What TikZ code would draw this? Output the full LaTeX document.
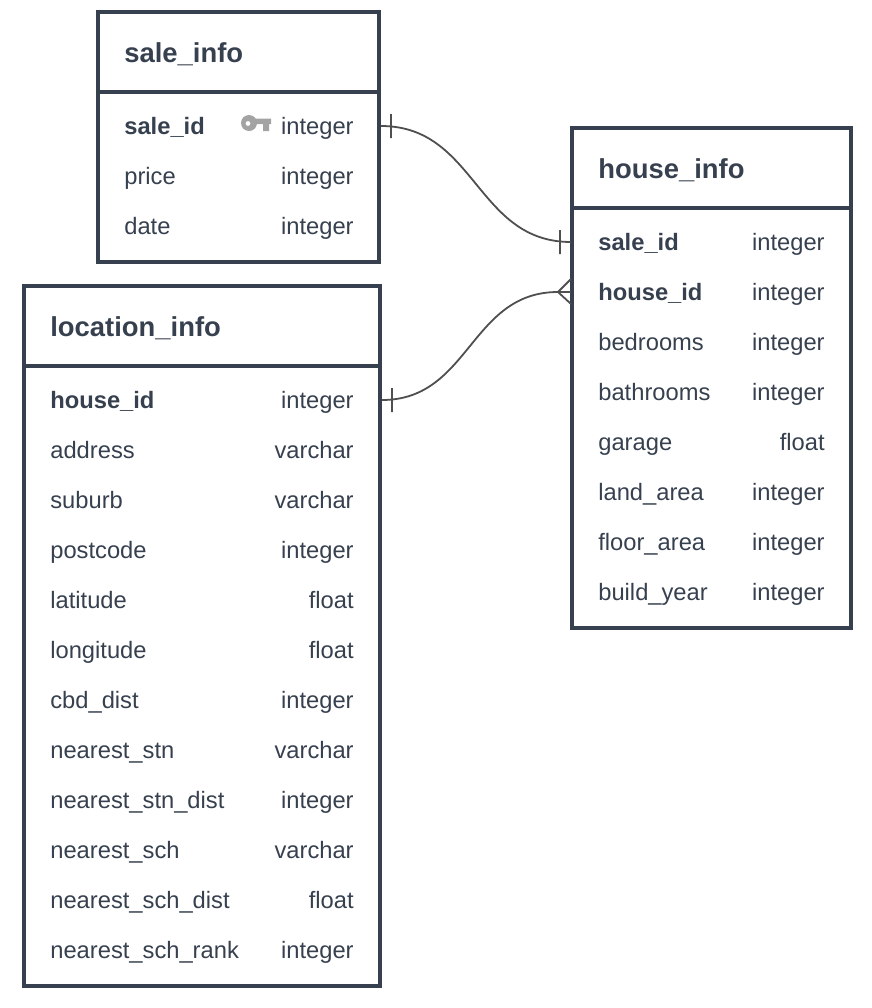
\documentclass[tikz,border=0pt]{standalone}
\usepackage{fontspec}
\setmainfont{Liberation Sans}
\usetikzlibrary{calc}
\definecolor{tblInk}{HTML}{36404E}
\definecolor{linkInk}{HTML}{4F4F4F}
\definecolor{keyInk}{HTML}{A3A3A3}
\tikzstyle{tblBox}=[rectangle, draw=tblInk, line width=0.08cm, inner sep=0pt, outer sep=0pt]
\tikzstyle{title}=[anchor=base west, inner sep=0pt, text=tblInk, font=\fontsize{15.6}{18}\selectfont\bfseries]
\tikzstyle{colName}=[anchor=base west, inner sep=0pt, text=tblInk, font=\fontsize{13.5}{16}\selectfont]
\tikzstyle{colKey}=[colName, font=\fontsize{13.5}{16}\selectfont\bfseries]
\tikzstyle{colType}=[anchor=base east, inner sep=0pt, text=tblInk, font=\fontsize{13.5}{16}\selectfont]
\tikzstyle{link}=[draw=linkInk, line width=0.036cm]
\tikzstyle{tick}=[rectangle, draw=linkInk, line width=0.034cm, minimum width=0pt, minimum height=0.48cm, inner sep=0pt, outer sep=0pt]

\begin{document}
\begin{tikzpicture}[x=0.02cm, y=-0.02cm]
        \useasboundingbox (0,0) rectangle (872,1008);
        % sale_info
        \node(saleBox) [tblBox, minimum width=5.63cm, minimum height=5cm] at (238.75,137){};
        \node(saleHead) [tblBox, minimum width=5.63cm, minimum height=1.6cm] at (238.75,52){};
        \node(saleTitle) [title] at (124,62){sale\_info};
        \node(saleKey) [colKey] at (124,134.5){sale\_id};
        \node(saleKeyType) [colType] at (354,134.5){integer};
        \foreach \i/\name/\kind in {1/price/integer, 2/date/integer}{
            \node(sale\i) [colName] at (124,134.5+50*\i){\name};
            \node(saleType\i) [colType] at (354,134.5+50*\i){\kind};
        }
        % key icon
        \fill[keyInk, even odd rule] (249,123) circle (8) (248,123.5) circle (2.5);
        \fill[keyInk] (254,118.7) -- (271,118.7) -- (271,124) -- (269,124) -- (269,131)
            -- (263,131) -- (263,124) -- (254,124) -- cycle;

        % house_info
        \node(houseBox) [tblBox, minimum width=5.58cm, minimum height=10cm] at (711.5,378){};
        \node(houseHead) [tblBox, minimum width=5.58cm, minimum height=1.6cm] at (711.5,168){};
        \node(houseTitle) [title] at (598,178){house\_info};
        \node(houseKey1) [colKey] at (598,250.5){sale\_id};
        \node(houseKey2) [colKey] at (598,300.5){house\_id};
        \node(houseKeyType1) [colType] at (825,250.5){integer};
        \node(houseKeyType2) [colType] at (825,300.5){integer};
        \foreach \i/\name/\kind in {2/bedrooms/integer, 3/bathrooms/integer, 4/garage/float,
            5/land\_area/integer, 6/floor\_area/integer, 7/build\_year/integer}{
            \node(house\i) [colName] at (598,250.5+50*\i){\name};
            \node(houseType\i) [colType] at (825,250.5+50*\i){\kind};
        }

        % location_info
        \node(locBox) [tblBox, minimum width=7.125cm, minimum height=14cm] at (202.15,636){};
        \node(locHead) [tblBox, minimum width=7.125cm, minimum height=1.6cm] at (202.15,326){};
        \node(locTitle) [title] at (50,336){location\_info};
        \node(locKey) [colKey] at (50,408.5){house\_id};
        \node(locKeyType) [colType] at (354,408.5){integer};
        \foreach \i/\name/\kind in {1/address/varchar, 2/suburb/varchar, 3/postcode/integer,
            4/latitude/float, 5/longitude/float, 6/cbd\_dist/integer, 7/nearest\_stn/varchar,
            8/nearest\_stn\_dist/integer, 9/nearest\_sch/varchar, 10/nearest\_sch\_dist/float,
            11/nearest\_sch\_rank/integer}{
            \node(loc\i) [colName] at (50,408.5+50*\i){\name};
            \node(locType\i) [colType] at (354,408.5+50*\i){\kind};
        }

        % links
        \coordinate(saleOut) at (381,126);
        \coordinate(houseIn1) at (571,242);
        \coordinate(locOut) at (382,400);
        \coordinate(houseIn2) at (558,292);
        \coordinate(houseEnd2) at (571,292);
        \coordinate(crowUp) at (571,279);
        \coordinate(crowDown) at (571,304);
        \draw[link] (saleOut) .. controls (476,126) and (476,242) .. (houseIn1);
        \draw[link] (locOut) .. controls (470,400) and (470,292) .. (houseIn2);
        \draw[link] (houseIn2) -- (houseEnd2);
        \draw[link] (houseIn2) -- (crowUp);
        \draw[link] (houseIn2) -- (crowDown);
        \node(tick1) [tick] at (391,126){};
        \node(tick2) [tick] at (560,242){};
        \node(tick3) [tick] at (392,400){};
\end{tikzpicture}
\end{document}
